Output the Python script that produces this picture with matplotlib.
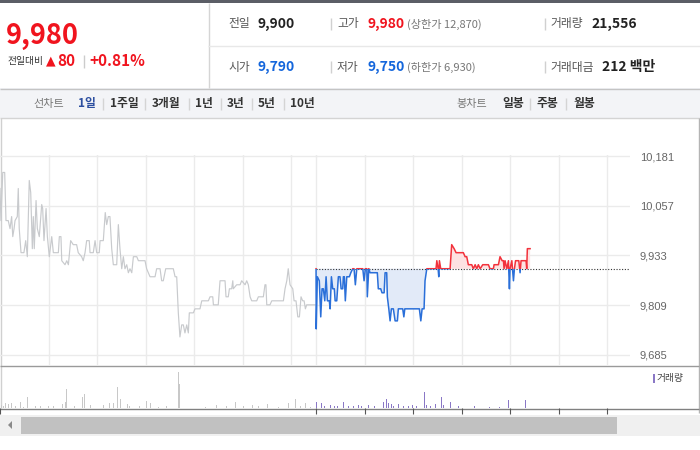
import numpy as np
import matplotlib.pyplot as plt
from matplotlib.patches import Rectangle, Polygon

plt.rcParams['font.family'] = ['Noto Sans CJK KR', 'DejaVu Sans']

# previous session: minutes after 12:00, price
prev_time = [0, 0.6, 1.7, 2.9, 3.7, 5.1, 6.2, 7.2, 7.9, 8.7,
             9.3, 10.7, 11.3, 11.9, 13.0, 14.8, 15.9, 16.9, 18.1, 19.0,
             20.0, 20.6, 21.2, 22.3, 23.1, 24.3, 25.8, 26.4, 27.2, 28.5,
             29.3, 30.5, 32.0, 33.0, 36.1, 36.7, 37.7, 38.2, 40.2, 41.3,
             42.3, 43.7, 45.3, 47.4, 48.4, 50.5, 51.5, 52.6, 53.6, 55.2,
             55.7, 57.7, 58.8, 59.8, 61.4, 61.9, 63.9, 65.1, 66.0, 67.0,
             68.0, 69.1, 70.1, 71.1, 72.2, 73.2, 74.2, 75.3, 76.3, 77.3,
             78.4, 79.4, 80.4, 81.5, 82.5, 84.6, 85.6, 89.7, 90.7, 92.8,
             95.9, 96.9, 99.0, 100.0, 101.0, 102.5, 107.2, 108.3, 109.3, 110.3,
             111.3, 112.4, 113.4, 114.4, 115.5, 116.5, 117.1, 118.6, 119.6, 120.6,
             123.7, 124.8, 128.9, 129.9, 131.6, 132.0, 135.0, 136.1, 139.2, 139.8,
             141.2, 141.9, 143.3, 144.0, 144.3, 146.4, 148.5, 149.5, 151.6, 152.6,
             153.6, 154.7, 155.7, 158.8, 159.8, 162.9, 163.9, 164.5, 165.0, 167.0,
             168.1, 175.3, 176.3, 177.4, 178.3, 179.4, 181.1, 181.9, 183.1, 184.2,
             185.2, 186.2, 187.2, 188.1, 188.9, 189.7, 194.9]
prev_price = [10100, 10020, 10140, 10140, 10020, 10020, 10000, 10030, 9980, 10000,
              10020, 10030, 10100, 10000, 9940, 9940, 9970, 9930, 10120, 10090,
              9950, 10030, 9950, 10070, 10000, 9980, 10060, 10050, 9970, 10050,
              9980, 9930, 9980, 9940, 9940, 9980, 9980, 9920, 9910, 9920,
              9910, 9970, 9960, 9960, 9940, 9930, 9920, 9940, 9970, 9970,
              9940, 9940, 9970, 9940, 9940, 9970, 9970, 10040, 10010, 10030,
              10030, 9950, 9910, 9910, 9910, 10010, 9950, 9900, 9930, 9900,
              9910, 9890, 9900, 9890, 9930, 9930, 9920, 9920, 9900, 9880,
              9880, 9900, 9900, 9870, 9870, 9900, 9900, 9880, 9880, 9790,
              9730, 9760, 9760, 9740, 9760, 9740, 9790, 9790, 9790, 9800,
              9800, 9820, 9820, 9830, 9830, 9810, 9810, 9870, 9870, 9830,
              9830, 9850, 9850, 9870, 9850, 9860, 9860, 9870, 9860, 9870,
              9860, 9830, 9820, 9820, 9830, 9830, 9860, 9860, 9810, 9810,
              9820, 9820, 9850, 9870, 9900, 9860, 9850, 9820, 9820, 9780,
              9780, 9830, 9820, 9820, 9800, 9810, 9810]

# today: minutes after 09:00, price
today_time = [0, 0.1, 0.8, 2.0, 2.9, 3.7, 4.5, 5.4, 6.2, 7.0,
              8.2, 8.7, 9.5, 10.3, 11.3, 11.8, 12.8, 13.8, 14.8, 15.5,
              16.5, 16.9, 17.5, 18.1, 19.0, 20.6, 21.5, 22.7, 23.5, 24.3,
              25.2, 28.9, 29.7, 30.5, 31.4, 31.7, 32.6, 33.4, 37.9, 38.5,
              40.0, 40.8, 42.1, 42.7, 43.7, 44.1, 45.0, 45.8, 46.6, 47.8,
              48.9, 50.3, 50.9, 53.6, 54.3, 54.9, 63.9, 64.8, 65.6, 66.8,
              67.4, 68.5, 74.2, 74.7, 75.5, 75.9, 76.3, 77.1, 82.9, 83.9,
              85.4, 86.6, 88.0, 91.1, 92.2, 93.2, 94.2, 96.3, 97.3, 98.4,
              99.4, 100.4, 101.5, 103.1, 106.6, 107.6, 109.7, 110.1, 112.8, 113.8,
              115.1, 115.9, 116.3, 116.9, 118.0, 119.0, 119.6, 120.0, 121.1, 122.1,
              122.7, 123.4, 125.4, 126.2, 126.8, 129.9, 130.3, 130.7, 132.4]
today_price = [9900, 9750, 9880, 9870, 9780, 9850, 9850, 9820, 9880, 9820,
               9820, 9800, 9880, 9850, 9850, 9820, 9820, 9880, 9880, 9850,
               9850, 9880, 9880, 9820, 9880, 9880, 9890, 9900, 9900, 9860,
               9900, 9900, 9870, 9900, 9900, 9830, 9900, 9890, 9890, 9850,
               9850, 9840, 9840, 9890, 9890, 9830, 9800, 9770, 9800, 9800,
               9770, 9770, 9800, 9800, 9780, 9800, 9800, 9770, 9800, 9800,
               9870, 9900, 9900, 9920, 9900, 9880, 9920, 9900, 9900, 9960,
               9950, 9940, 9940, 9940, 9930, 9930, 9910, 9910, 9900, 9910,
               9900, 9910, 9900, 9910, 9910, 9900, 9900, 9910, 9910, 9930,
               9920, 9920, 9900, 9920, 9900, 9920, 9850, 9900, 9920, 9870,
               9900, 9920, 9920, 9890, 9920, 9920, 9900, 9950, 9950]

prev_close = 9900
grid_prices = [9685, 9809, 9933, 10057, 10181]

vol_prev_time = [0.8, 3.6, 5.5, 7.4, 12.4, 17.1, 22.1, 38.7, 40.6, 41.4,
                 51.3, 52.5, 56.0, 64.1, 68.0, 70.4, 72.6, 74.5, 78.7, 90.6,
                 93.0, 110.5, 111.0, 134.2, 145.6, 150.8, 156.0, 165.7, 178.2, 182.8,
                 188.7, 2.0, 9.8, 14.5, 25.0, 30.0, 33.0, 46.0, 60.0, 80.0,
                 86.0, 98.0, 103.0, 120.0, 127.0, 140.0, 160.0, 172.0, 186.0, 192.0]
vol_prev = [165, 250, 215, 250, 285, 535, 100, 215, 285, 965,
            535, 685, 165, 165, 250, 250, 1035, 450, 215, 365,
            250, 1800, 1185, 165, 315, 115, 165, 215, 250, 450,
            235, 90, 110, 70, 100, 80, 120, 90, 70, 100,
            80, 60, 90, 100, 70, 90, 80, 60, 90, 70]

vol_today_time = [0.3, 3.3, 8.9, 11.6, 16.9, 26.0, 32.4, 42.0, 43.4, 44.8,
                  46.4, 51.2, 54.2, 59.7, 66.9, 68.3, 73.8, 77.6, 78.7, 82.9,
                  98.1, 107.5, 113.3, 119.3, 129.8, 5.5, 13.0, 20.0, 23.0, 28.0,
                  36.0, 48.0, 57.0, 62.0, 71.0, 88.0]
vol_today = [285, 250, 165, 115, 285, 165, 165, 285, 465, 250,
             215, 215, 115, 165, 815, 165, 215, 565, 165, 285,
             115, 65, 65, 415, 415, 90, 100, 80, 110, 90,
             120, 80, 100, 90, 110, 80]

RED = '#f0141e'
BLUE = '#1466dc'
PURPLE = '#8a78c6'
W, H = 700, 450
DAY_OFFSET = 195.5
XMAX = 630 * 30 / 48.5


def box(x0, y0, x1, y1):
    return [x0 / W, 1 - y1 / H, (x1 - x0) / W, (y1 - y0) / H]


fig = plt.figure(figsize=(7, 4.5), dpi=100)

# header / frame layer in pixel coordinates
ov = fig.add_axes([0, 0, 1, 1])
ov.set_xlim(0, W)
ov.set_ylim(H, 0)
ov.axis('off')


def hline(y, x0, x1, c, lw=1):
    ov.plot([x0, x1], [y, y], color=c, lw=lw, solid_capstyle='butt')


def vline(x, y0, y1, c, lw=1):
    ov.plot([x, x], [y0, y1], color=c, lw=lw, solid_capstyle='butt')


ov.add_patch(Rectangle((0, 0), W, 3, fc='#5b5e66', ec='none'))
vline(208.5, 3, 88, '#d5d5d5')
hline(45.5, 208, W, '#e8e8e8')

ov.text(6, 36, '9,980', color=RED, fontsize=19.5, fontweight='bold', va='center')
ov.text(7, 61, '전일대비', color='#333', fontsize=7, va='center')
ov.text(46, 61, '▲', color=RED, fontsize=9, va='center', family=['DejaVu Sans'])
ov.text(57, 61, '80', color=RED, fontsize=11, fontweight='bold', va='center')
vline(83.5, 55, 68, '#cccccc')
ov.text(89, 61, '+0.81%', color=RED, fontsize=11, fontweight='bold', va='center')

for y, lab, val, col in [(24, '전일', '9,900', '#222'), (67, '시가', '9,790', BLUE)]:
    ov.text(228, y, lab, color='#555', fontsize=8.5, va='center')
    ov.text(257, y, val, color=col, fontsize=10, fontweight='bold', va='center')
for y, lab, val, note in [(24, '고가', '9,980', '(상한가 12,870)'),
                          (67, '저가', '9,750', '(하한가 6,930)')]:
    ov.text(337, y, lab, color='#555', fontsize=8.5, va='center')
    ov.text(367, y, val, color=RED if y == 24 else BLUE, fontsize=10,
            fontweight='bold', va='center')
    ov.text(407, y, note, color='#777', fontsize=8, va='center')
ov.text(550, 24, '거래량', color='#555', fontsize=8.5, va='center')
ov.text(591, 24, '21,556', color='#222', fontsize=10, fontweight='bold', va='center')
ov.text(550, 67, '거래대금', color='#555', fontsize=8.5, va='center')
ov.text(602, 67, '212 백만', color='#222', fontsize=10, fontweight='bold', va='center')
for y in (24, 67):
    vline(330.5, y - 6, y + 6, '#d0d0d0')
    vline(544.5, y - 6, y + 6, '#d0d0d0')

# tab bar
ov.add_patch(Rectangle((0, 88), W, 30, fc='#f3f4f7', ec='none'))
hline(88.5, 0, W, '#c4c4c4')
hline(118, 0, W, '#d4d4d4')
ov.text(33, 104, '선차트', color='#777', fontsize=8, va='center')
ov.text(78, 104, '1일', color='#2d4fa0', fontsize=8.5, fontweight='bold', va='center')
for x, s in [(110, '1주일'), (152, '3개월'), (195, '1년'), (227, '3년'),
             (258, '5년'), (290, '10년')]:
    ov.text(x, 104, s, color='#333', fontsize=8.5, fontweight='bold', va='center')
for x in (102, 144, 188, 220, 251, 283, 529, 565):
    vline(x + 0.5, 98, 110, '#d4d4d4')
ov.text(456, 104, '봉차트', color='#777', fontsize=8, va='center')
for x, s in [(502, '일봉'), (537, '주봉'), (573, '월봉')]:
    ov.text(x, 104, s, color='#333', fontsize=8.5, fontweight='bold', va='center')

# frame lines
vline(0.5, 118, 408, '#d0d0d0')
vline(698.5, 118, 413, '#b4b4b4')
hline(365.5, 0, 699, '#9a9a9a')
hline(408.5, 0, 699, '#808080')

# scrollbar
ov.add_patch(Rectangle((0, 415), W, 21, fc='#f0f0f0', ec='none'))
ov.add_patch(Rectangle((21, 417), 596, 17, fc='#c1c1c1', ec='none'))
ov.add_patch(Polygon([(8, 425), (12, 421), (12, 429)], fc='#8a8a8a', ec='none'))

# volume legend
ov.add_patch(Rectangle((653, 374), 2, 9, fc=PURPLE, ec='none'))
ov.text(657, 378, '거래량', color='#444', fontsize=7, va='center')

grid_x = [30, 60, 90, 120, 150, 180] + [DAY_OFFSET + 30 * k for k in range(7)]

# main price chart
ax = fig.add_axes(box(0, 155, 630, 365))
ax.set_facecolor('none')
ax.set_xlim(0, XMAX)
ax.set_ylim(9660, 10183.5)
ax.set_xticks(grid_x)
ax.set_yticks(grid_prices)
ax.set_yticklabels([f'{p:,}' for p in grid_prices])
ax.grid(color='#ebebeb', lw=1)
ax.set_axisbelow(True)
ax.yaxis.tick_right()
ax.tick_params(axis='y', length=0, pad=7, labelsize=8, labelcolor='#666',
               labelfontfamily='Liberation Sans')
ax.tick_params(axis='x', length=0, labelbottom=False)
for sp in ax.spines.values():
    sp.set_visible(False)

ax.plot(prev_time, prev_price, color='#c8cacd', lw=0.85)

tt = DAY_OFFSET + np.array(today_time)
pp = np.array(today_price)
ax.fill_between(tt, pp, prev_close, where=pp >= prev_close, interpolate=True,
                color='#fde2e2', lw=0)
ax.fill_between(tt, pp, prev_close, where=pp <= prev_close, interpolate=True,
                color='#e2eaf8', lw=0)
ax.hlines(prev_close, DAY_OFFSET, XMAX, color='#333', lw=0.8, linestyles=(0, (1, 1.5)))
up, = ax.plot(tt, pp, color='#f2323c', lw=1.1)
up.set_clip_path(Rectangle((0, prev_close), 500, 1000, transform=ax.transData))
dn, = ax.plot(tt, pp, color='#2a6fd9', lw=1.1)
dn.set_clip_path(Rectangle((0, 9000), 500, prev_close - 9000, transform=ax.transData))

# volume chart
axv = fig.add_axes(box(0, 366, 630, 408))
axv.set_facecolor('none')
axv.set_xlim(0, XMAX)
axv.set_ylim(0, 2100)
axv.bar(vol_prev_time, vol_prev, width=0.6, color='#c8c8c8', lw=0)
axv.bar(DAY_OFFSET + np.array(vol_today_time), vol_today, width=0.6, color=PURPLE, lw=0)
axv.set_xticks([0] + grid_x[6:])
axv.set_yticks([])
axv.tick_params(axis='x', direction='out', length=4, color='#555', labelbottom=False)
for sp in axv.spines.values():
    sp.set_visible(False)

fig.savefig('out.png', dpi=100)
